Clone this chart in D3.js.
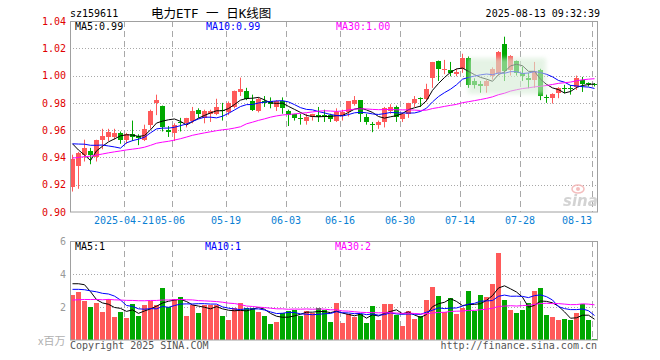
<!DOCTYPE html>
<html><head><meta charset="utf-8">
<script src="https://cdn.jsdelivr.net/npm/d3@7"></script>
<style>body{margin:0;background:#fff}svg{display:block}</style>
</head><body><svg id="c" width="660" height="360"></svg>
<script>
// ---------- DATA ----------
const dates = ["2025-04-08","2025-04-09","2025-04-10","2025-04-11","2025-04-14","2025-04-15","2025-04-16","2025-04-17","2025-04-18",
"2025-04-21","2025-04-22","2025-04-23","2025-04-24","2025-04-25","2025-04-28","2025-04-29","2025-04-30",
"2025-05-06","2025-05-07","2025-05-08","2025-05-09","2025-05-12","2025-05-13","2025-05-14","2025-05-15","2025-05-16",
"2025-05-19","2025-05-20","2025-05-21","2025-05-22","2025-05-23","2025-05-26","2025-05-27","2025-05-28","2025-05-29","2025-05-30",
"2025-06-03","2025-06-04","2025-06-05","2025-06-06","2025-06-09","2025-06-10","2025-06-11","2025-06-12","2025-06-13",
"2025-06-16","2025-06-17","2025-06-18","2025-06-19","2025-06-20","2025-06-23","2025-06-24","2025-06-25","2025-06-26","2025-06-27",
"2025-06-30","2025-07-01","2025-07-02","2025-07-03","2025-07-04","2025-07-07","2025-07-08","2025-07-09","2025-07-10","2025-07-11",
"2025-07-14","2025-07-15","2025-07-16","2025-07-17","2025-07-18","2025-07-21","2025-07-22","2025-07-23","2025-07-24","2025-07-25",
"2025-07-28","2025-07-29","2025-07-30","2025-07-31","2025-08-01","2025-08-04","2025-08-05","2025-08-06","2025-08-07","2025-08-08",
"2025-08-11","2025-08-12","2025-08-13"];

const opens = [0.918,0.934,0.942,0.945,0.940,0.953,0.955,0.955,0.958,0.953,0.957,0.956,0.953,0.964,0.980,0.978,0.960,0.958,0.966,0.965,0.967,0.975,
0.969,0.972,0.972,0.975,0.973,0.977,0.988,0.989,0.981,0.974,0.981,0.981,0.977,0.981,0.974,0.972,0.969,0.967,0.970,0.971,0.971,0.971,
0.967,0.971,0.973,0.979,0.982,0.970,0.9645,0.964,0.966,0.974,0.977,0.968,0.972,0.980,0.9835,0.983,0.998,1.011,1.004,1.004,1.001,1.005,
1.013,0.996,0.994,0.992,1.000,1.002,1.023,1.004,1.011,1.002,0.998,0.997,1.004,0.984,0.9834,0.987,0.991,0.991,0.9915,0.997,0.9945,0.994];
const highs = [0.942,0.944,0.953,0.947,0.953,0.961,0.961,0.961,0.959,0.958,0.967,0.957,0.964,0.975,0.986,0.978,0.963,0.965,0.969,0.969,0.977,0.976,
0.975,0.975,0.983,0.980,0.981,0.989,0.9985,0.991,0.986,0.984,0.985,0.984,0.982,0.984,0.975,0.972,0.972,0.972,0.972,0.977,0.975,0.972,
0.976,0.975,0.981,0.985,0.982,0.972,0.966,0.967,0.977,0.979,0.978,0.973,0.980,0.985,0.984,0.994,1.010,1.011,1.0115,1.010,1.005,1.016,
1.014,0.998,0.996,0.997,1.006,1.018,1.0285,1.015,1.011,1.0066,1.002,1.010,1.005,0.986,0.987,0.9915,0.9932,0.993,1.000,0.999,0.995,0.9945];
const lows = [0.915,0.917,0.937,0.935,0.937,0.946,0.952,0.953,0.950,0.950,0.952,0.949,0.952,0.961,0.971,0.959,0.955,0.952,0.959,0.962,0.965,0.969,
0.965,0.966,0.971,0.967,0.971,0.976,0.985,0.982,0.974,0.973,0.977,0.976,0.974,0.972,0.963,0.967,0.964,0.964,0.967,0.966,0.966,0.966,
0.966,0.967,0.970,0.978,0.966,0.964,0.9585,0.961,0.962,0.972,0.966,0.966,0.969,0.977,0.977,0.981,0.991,0.996,1.001,0.9995,0.9995,1.002,
0.991,0.9905,0.9875,0.9875,0.997,1.000,0.996,1.000,1.000,0.996,0.9907,0.991,0.982,0.980,0.9795,0.9834,0.987,0.986,0.9895,0.988,0.992,0.992];
const closes = [0.939,0.943,0.947,0.942,0.953,0.956,0.959,0.958,0.953,0.957,0.955,0.954,0.961,0.974,0.982,0.962,0.959,0.964,0.965,0.969,0.974,0.972,
0.974,0.974,0.977,0.974,0.980,0.989,0.990,0.983,0.975,0.983,0.980,0.979,0.981,0.976,0.971,0.969,0.968,0.970,0.972,0.970,0.970,0.968,
0.973,0.973,0.981,0.982,0.972,0.966,0.964,0.966,0.976,0.977,0.970,0.972,0.980,0.983,0.983,0.990,1.010,1.005,1.005,1.002,1.0024,1.013,
0.993,0.993,0.992,0.996,1.005,1.0175,1.003,1.014,1.002,0.9995,0.997,1.003,0.985,0.9833,0.9866,0.9907,0.9905,0.9905,0.998,0.994,0.994,0.993];
// volume, millions
const volumes = [2.73,2.91,2.36,2.00,2.24,1.72,2.51,1.39,1.72,1.33,2.18,1.45,2.12,2.36,2.12,3.15,2.00,2.46,2.60,1.45,2.12,1.64,
2.12,2.12,2.12,1.45,1.21,1.96,2.24,1.96,1.96,1.72,1.45,0.97,1.11,1.64,1.76,1.82,1.45,1.76,1.64,1.96,1.82,1.11,
2.22,1.03,1.58,1.39,1.58,1.03,2.06,1.21,2.18,2.18,1.52,0.85,1.76,1.27,1.45,2.40,3.21,2.67,1.70,2.53,1.58,1.96,
2.97,1.76,2.73,2.60,3.40,5.27,2.42,1.82,1.64,1.82,2.24,2.97,3.15,1.52,1.39,1.21,1.27,1.21,1.64,2.18,1.21,0.06];
// sessions before the window (only feed the moving averages)
const prevCloses = [0.928,0.930,0.932,0.929,0.931,0.934,0.936,0.933,0.935,0.938,0.937,0.935,0.933,0.936,0.938,0.940,0.937,0.935,0.933,0.935,
0.945,0.948,0.950,0.953,0.954,0.966,0.965,0.962,0.918];
const prevVolumes = [2.3,1.9,2.1,2.0,2.4,1.8,2.2,2.1,1.9,2.3,2.0,2.2,1.8,2.1,2.3,2.0,1.9,2.2,2.1,2.3,
2.9,2.6,2.7,2.8,2.65,2.91,2.66,4.1,4.65];

const priceTicks = [0.90,0.92,0.94,0.96,0.98,1.00,1.02,1.04];
const volTicks = [2,4,6];
const tickDates = ["2025-04-21","2025-05-06","2025-05-19","2025-06-03","2025-06-16","2025-06-30","2025-07-14","2025-07-28","2025-08-13"];
const tickLabels = ["2025-04-21","05-06","05-19","06-03","06-16","06-30","07-14","07-28","08-13"];
const symbol = "sz159611";
const title = "电力ETF 一 日K线图";
const stamp = "2025-08-13 09:32:39";

// ---------- CHART ----------
const svg = d3.select("#c");
const L = 70, R = 598, T1 = 21, B1 = 212, T2 = 241, B2 = 340;
const RED = "#ff5a5a", GREEN = "#00a800", GRID = "#a8a8a8", FRAME = "#a0a0a0";
const MONO = "'DejaVu Sans Mono', monospace";

const x = d3.scaleBand().domain(dates).range([L, R]).padding(0);
const y = d3.scaleLinear().domain([0.90, 1.04]).range([B1, T1]);
const yv = d3.scaleLinear().domain([0, 6]).range([B2, T2]);
const cx = d => x(d) + 2.5;

function ma(arr, prev, n) {
  const all = prev.concat(arr);
  return arr.map((_, i) => d3.mean(all.slice(prev.length + i - n + 1, prev.length + i + 1)));
}
const up = dates.map((_, i) => closes[i] >= opens[i]);

// header
svg.append("text").attr("x", 70).attr("y", 17).attr("font-family", MONO).attr("font-size", 10).text(symbol);
svg.append("text").attr("x", 151).attr("y", 18).attr("font-family", "'DejaVu Sans Mono','Noto Sans CJK SC'").attr("font-size", 12.5).text(title);
svg.append("text").attr("x", 600).attr("y", 17).attr("text-anchor", "end").attr("font-family", MONO).attr("font-size", 10).text(stamp);

// grids
function hgrid(scale, ticks, lo, hi) {
  svg.append("g").selectAll("line").data(ticks.filter(t => t > lo && t < hi)).join("line")
    .attr("x1", L).attr("x2", R).attr("y1", d => Math.round(scale(d)) + 0.5).attr("y2", d => Math.round(scale(d)) + 0.5)
    .attr("stroke", GRID).attr("stroke-dasharray", "1,2");
}
hgrid(y, priceTicks, 0.90, 1.04);
hgrid(yv, volTicks, 0, 6);
[[T1, B1], [T2, B2]].forEach(([t, b]) => {
  svg.append("g").selectAll("line").data(tickDates).join("line")
    .attr("x1", d => x(d) + 0.5).attr("x2", d => x(d) + 0.5).attr("y1", t).attr("y2", b)
    .attr("stroke", GRID).attr("stroke-dasharray", "6,4");
});

// axes
const ya = svg.append("g").attr("transform", `translate(${L},0)`)
  .call(d3.axisLeft(y).tickValues(priceTicks).tickFormat(d3.format(".2f")).tickSize(0).tickPadding(4));
ya.select(".domain").remove();
ya.selectAll("text").attr("fill", "#e00000").attr("font-family", MONO).attr("font-size", 10);

const yva = svg.append("g").attr("transform", `translate(${L},0)`)
  .call(d3.axisLeft(yv).tickValues(volTicks).tickFormat(d3.format("d")).tickSize(0).tickPadding(4));
yva.select(".domain").remove();
yva.selectAll("text").attr("fill", "#999").attr("font-family", MONO).attr("font-size", 10);

const xa = svg.append("g").attr("transform", `translate(${-x.bandwidth()/2},${B1})`)
  .call(d3.axisBottom(x).tickValues(tickDates).tickFormat((d, i) => tickLabels[i]).tickSize(0).tickPadding(5));
xa.select(".domain").remove();
xa.selectAll("text").attr("fill", "#0a7fd4").attr("font-family", MONO).attr("font-size", 10)
  .attr("dx", (d, i) => i === tickLabels.length - 1 ? -15 : (i === 1 ? -2 : 0));

// candles
const cg = svg.append("g");
cg.selectAll("line").data(dates).join("line")
  .attr("x1", d => cx(d)).attr("x2", d => cx(d))
  .attr("y1", (d, i) => y(highs[i])).attr("y2", (d, i) => y(lows[i]))
  .attr("stroke", (d, i) => up[i] ? RED : GREEN);
cg.selectAll("rect").data(dates).join("rect")
  .attr("x", d => x(d)).attr("width", 5)
  .attr("y", (d, i) => y(Math.max(opens[i], closes[i])))
  .attr("height", (d, i) => Math.max(1, Math.abs(y(opens[i]) - y(closes[i]))))
  .attr("fill", (d, i) => up[i] ? RED : GREEN).attr("shape-rendering", "crispEdges");

// volume bars
svg.append("g").selectAll("rect").data(dates).join("rect")
  .attr("x", d => x(d)).attr("width", 5)
  .attr("y", (d, i) => yv(volumes[i])).attr("height", (d, i) => B2 - yv(volumes[i]))
  .attr("fill", (d, i) => up[i] ? RED : GREEN).attr("shape-rendering", "crispEdges");

// moving averages
const maSpec = [[5, "#000"], [10, "#0000ff"], [30, "#ff00ff"]];
const pMA = maSpec.map(([n]) => ma(closes, prevCloses, n));
const vMA = maSpec.map(([n]) => ma(volumes, prevVolumes, n));
maSpec.forEach(([n, col], k) => {
  svg.append("path").datum(pMA[k]).attr("fill", "none").attr("stroke", col).attr("stroke-width", 1)
    .attr("d", d3.line().x((d, i) => cx(dates[i])).y(d => y(d)));
  svg.append("path").datum(vMA[k]).attr("fill", "none").attr("stroke", col).attr("stroke-width", 1)
    .attr("d", d3.line().x((d, i) => cx(dates[i])).y(d => yv(d)));
});

// ghost overlay seen in the picture
const defs = svg.append("defs");
defs.append("filter").attr("id", "bl").append("feGaussianBlur").attr("stdDeviation", 2);
svg.append("rect").attr("x", 468).attr("y", 58).attr("width", 78).attr("height", 36)
  .attr("fill", "#d4ecd4").attr("opacity", 0.6).attr("filter", "url(#bl)");

// frames
[[T1, B1], [T2, B2]].forEach(([t, b]) => {
  svg.append("rect").attr("x", L + 0.5).attr("y", t + 0.5).attr("width", R - L - 1).attr("height", b - t - 0.5)
    .attr("fill", "none").attr("stroke", FRAME);
});

// legends
const last = dates.length - 1;
const pxs = [75, 206, 336];
maSpec.forEach(([n, col], k) => {
  svg.append("text").attr("x", pxs[k]).attr("y", 30).attr("fill", col).attr("font-family", MONO).attr("font-size", 10)
    .text(`MA${n}:${pMA[k][last].toFixed(2)}`);
  svg.append("text").attr("x", pxs[k] - (k ? 1 : 0)).attr("y", 250).attr("fill", col).attr("font-family", MONO).attr("font-size", 10)
    .text(`MA${n}:${Math.round(vMA[k][last])}`);
});

// sina mark
const sm = svg.append("g").attr("opacity", 0.9);
sm.append("ellipse").attr("cx", 578).attr("cy", 189).attr("rx", 6).attr("ry", 4).attr("fill", "none").attr("stroke", "#f3b6b6").attr("stroke-width", 1.5);
sm.append("circle").attr("cx", 578).attr("cy", 189).attr("r", 2).attr("fill", "#f3b6b6");
sm.append("text").attr("x", 563).attr("y", 206).attr("font-family", "'DejaVu Sans'").attr("font-weight", "bold").attr("font-style", "italic")
  .attr("font-size", 15).attr("fill", "#cfcfcf").text("sina");

// footer
svg.append("text").attr("x", 38).attr("y", 345).attr("font-family", "'Noto Sans CJK SC'").attr("font-size", 11).attr("fill", "#b0b0b0").text("x百万");
svg.append("text").attr("x", 70).attr("y", 349).attr("font-family", MONO).attr("font-size", 10).attr("fill", "#555").text("Copyright 2025 SINA.COM");
svg.append("text").attr("x", 597).attr("y", 349).attr("text-anchor", "end").attr("font-family", MONO).attr("font-size", 10).attr("fill", "#555").text("http://finance.sina.com.cn");
</script></body></html>
